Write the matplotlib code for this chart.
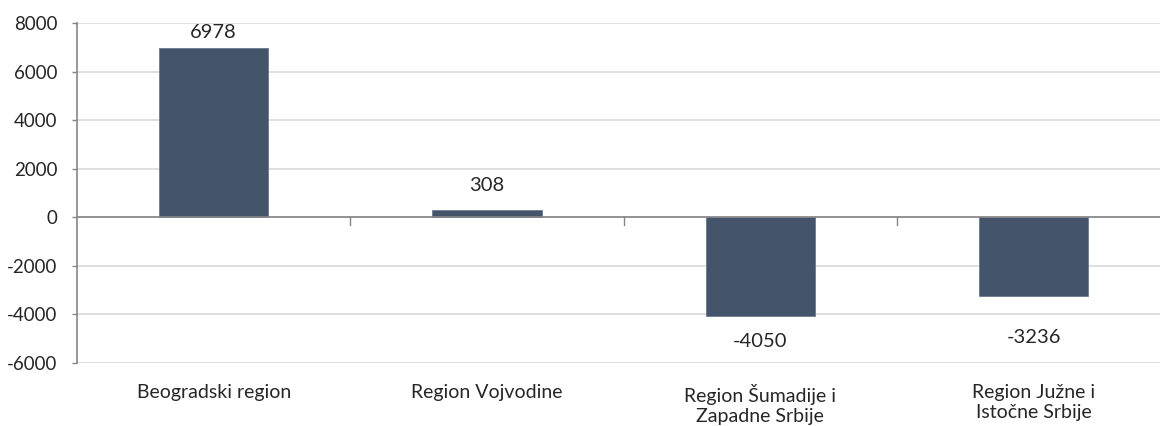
import matplotlib.pyplot as plt

plt.rcParams['font.family'] = ['Lato', 'DejaVu Sans']

regions = ['Beogradski region', 'Region Vojvodine',
           'Region Šumadije i\nZapadne Srbije', 'Region Južne i\nIstočne Srbije']
saldo = [6978, 308, -4050, -3236]
yticks = list(range(-6000, 8001, 2000))

# distance of each value label from the bar end, in pixels
label_gap = [15, 24, 26, 42]

bar_color = '#44546A'
grid_color = '#D9D9D9'
axis_color = '#868686'
text_color = '#262626'

fig = plt.figure(figsize=(11.62, 4.26), dpi=100)
ax = fig.add_axes([77 / 1162, 1 - 363 / 426, (1160 - 77) / 1162, 340 / 426])

x = list(range(len(regions)))
ax.bar(x, saldo, width=0.4, color=bar_color, edgecolor='#6B7A8F', linewidth=0.6, zorder=3)

for xi, v, gap in zip(x, saldo, label_gap):
    dy = gap if v >= 0 else -gap
    ax.annotate(str(v), (xi, v), xytext=(0, dy * 0.72), textcoords='offset points',
                ha='center', va='center', fontsize=14.5, color=text_color)

ax.set_ylim(-6000, 8000)
ax.set_xlim(-0.5, -0.5 + 1083 / 273.3)
ax.set_yticks(yticks)
ax.set_yticklabels([str(t) for t in yticks])
ax.yaxis.grid(True, color=grid_color, linewidth=1.2, zorder=0)
ax.tick_params(axis='y', length=3.6, width=1, color=axis_color, labelsize=13.5,
               labelcolor=text_color, pad=10.5)

# category names under the plot, separators drawn on the zero line
ax.set_xticks(x)
ax.set_xticklabels(regions, fontsize=14, color=text_color, linespacing=1.25)
ax.tick_params(axis='x', length=0, pad=15)

ax.axhline(0, color=axis_color, linewidth=1.2, zorder=4)
for sep in [0.5, 1.5, 2.5]:
    ax.plot([sep, sep], [0, -330], color=axis_color, linewidth=1, zorder=4,
            clip_on=False)

for side in ['top', 'right', 'bottom']:
    ax.spines[side].set_visible(False)
ax.spines['left'].set_color(axis_color)
ax.spines['left'].set_linewidth(1.2)

fig.savefig('out.png', dpi=100)
